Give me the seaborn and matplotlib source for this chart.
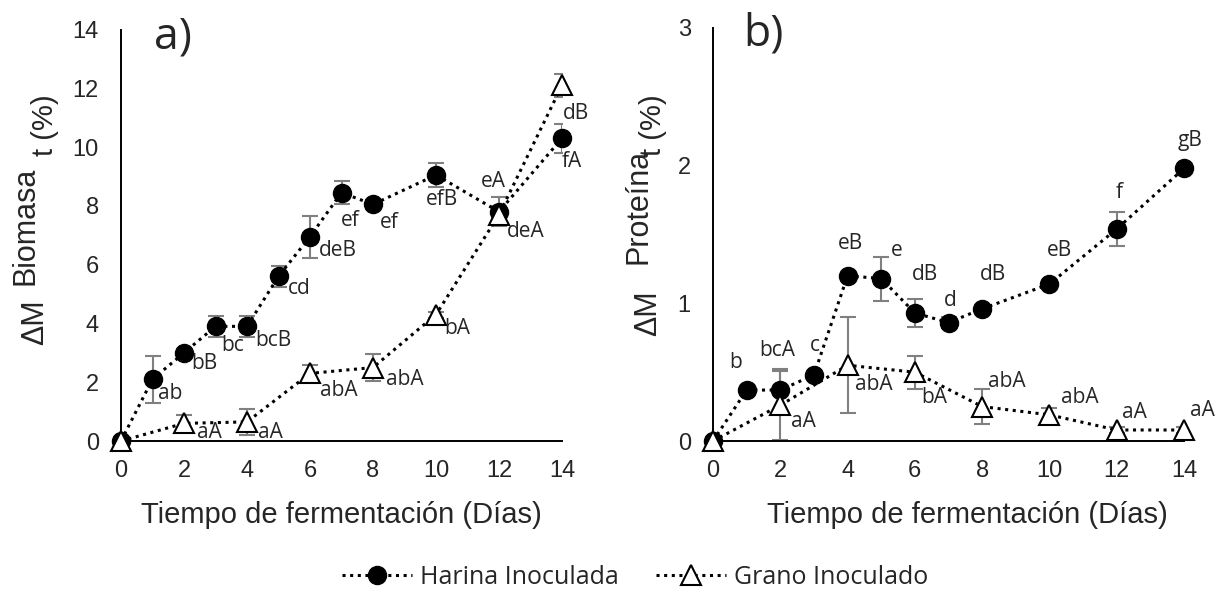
import numpy as np
import pandas as pd
import matplotlib.pyplot as plt
import seaborn as sns

sns.set_theme(style="white")
plt.rcParams['font.family'] = ['Liberation Sans', 'DejaVu Sans']

# datos
dias_harina = [0, 1, 2, 3, 4, 5, 6, 7, 8, 10, 12, 14]
dias_grano = [0, 2, 4, 6, 8, 10, 12, 14]

biomasa_harina = [0, 2.1, 3.0, 3.9, 3.9, 5.6, 6.95, 8.45, 8.05, 9.05, 7.8, 10.3]
biomasa_harina_err = [0, 0.8, 0.1, 0.35, 0.35, 0.35, 0.72, 0.4, 0.15, 0.42, 0.5, 0.5]
biomasa_grano = [0, 0.6, 0.65, 2.3, 2.5, 4.3, 7.7, 12.1]
biomasa_grano_err = [0, 0.3, 0.43, 0.3, 0.47, 0.1, 0.3, 0.4]
biomasa_harina_letras = ['', 'ab', 'bB', 'bc', 'bcB', 'cd', 'deB', 'ef', 'ef', 'efB', 'eA', 'fA']
biomasa_grano_letras = ['', 'aA', 'aA', 'abA', 'abA', 'bA', 'deA', 'dB']

proteina_harina = [0, 0.37, 0.37, 0.48, 1.2, 1.18, 0.93, 0.86, 0.96, 1.14, 1.54, 1.98]
proteina_harina_err = [0, 0, 0.15, 0, 0, 0.16, 0.1, 0.04, 0, 0, 0.12, 0]
proteina_grano = [0, 0.26, 0.55, 0.5, 0.25, 0.19, 0.08, 0.08]
proteina_grano_err = [0, 0.25, 0.35, 0.12, 0.13, 0.05, 0.02, 0.02]
proteina_harina_letras = ['', 'b', 'bcA', 'c', 'eB', 'e', 'dB', 'd', 'dB', 'eB', 'f', 'gB']
proteina_grano_letras = ['', 'aA', 'abA', 'bA', 'abA', 'abA', 'aA', 'aA']

# posicion de las letras (offset en puntos)
off_bio_h = [(0, 0), (13, -10), (15, -7.5), (12, -14), (19, -10), (15, -9), (20, -10),
             (6, -20), (12, -13), (4, -18), (-4, 22), (7, -17)]
off_bio_g = [(0, 0), (18, -6.5), (17, -7.5), (21, -12), (23, -8.5), (15, -10), (19, -12), (10, -20)]
off_pro_h = [(0, 0), (-8, 20), (-2, 28.5), (1, 21), (2, 23), (11, 20), (7, 27.5), (1, 16),
             (8, 25), (7, 24), (2, 26.5), (4.5, 20)]
off_pro_g = [(0, 0), (17, -12), (19, -14), (14, -18), (18, 18), (22, 12.5), (13, 12.5), (13, 14)]

W, H = 1219, 597
LETRA = ['Open Sans', 'DejaVu Sans']
punteado = (0, (1, 1.5))


def fx(px):
    return px / W


def fy(py):
    return 1 - py / H


def panel(ax, yh, eh, yg, eg, lh, lg, oh, og, ymax, ystep):
    ax.errorbar(dias_harina, yh, yerr=eh, fmt='none', ecolor='#808080',
                elinewidth=1.5, capsize=6, capthick=1.5, zorder=2)
    ax.errorbar(dias_grano, yg, yerr=eg, fmt='none', ecolor='#808080',
                elinewidth=1.5, capsize=6, capthick=1.5, zorder=2)
    dh = pd.DataFrame({'dia': dias_harina, 'valor': yh})
    dg = pd.DataFrame({'dia': dias_grano, 'valor': yg})
    sns.lineplot(data=dh, x='dia', y='valor', ax=ax, color='black', linestyle=punteado,
                 linewidth=2.2, marker='o', markersize=13, markerfacecolor='black',
                 markeredgecolor='black', markeredgewidth=1, label='Harina Inoculada',
                 zorder=3, clip_on=False)
    sns.lineplot(data=dg, x='dia', y='valor', ax=ax, color='black', linestyle=punteado,
                 linewidth=2.2, marker='^', markersize=14, markerfacecolor='white',
                 markeredgecolor='black', markeredgewidth=1.5, label='Grano Inoculado',
                 zorder=4, clip_on=False)
    for d, v, t, o in zip(dias_harina, yh, lh, oh):
        ax.annotate(t, (d, v), xytext=o, textcoords='offset points', ha='center',
                    va='center', fontsize=15, family=LETRA, zorder=5)
    for d, v, t, o in zip(dias_grano, yg, lg, og):
        ax.annotate(t, (d, v), xytext=o, textcoords='offset points', ha='center',
                    va='center', fontsize=15, family=LETRA, zorder=5)
    ax.set_xlim(0, 14)
    ax.set_ylim(0, ymax)
    ax.set_xticks(range(0, 15, 2))
    ax.set_yticks(np.arange(0, ymax + 0.01, ystep))
    ax.tick_params(length=0, labelsize=17)
    ax.tick_params(axis='y', pad=16)
    ax.tick_params(axis='x', pad=14)
    ax.set_xlabel('')
    ax.set_ylabel('')
    sns.despine(ax=ax)
    for s in ['left', 'bottom']:
        ax.spines[s].set_color('black')
        ax.spines[s].set_linewidth(1.4)
    ax.get_legend().remove()


fig = plt.figure(figsize=(W / 100, H / 100), dpi=100)
ax1 = fig.add_axes([fx(121), fy(441), fx(562) - fx(121), fy(29.5) - fy(441)])
ax2 = fig.add_axes([fx(713), fy(441), fx(1184) - fx(713), fy(28) - fy(441)])

panel(ax1, biomasa_harina, biomasa_harina_err, biomasa_grano, biomasa_grano_err,
      biomasa_harina_letras, biomasa_grano_letras, off_bio_h, off_bio_g, 14, 2)
panel(ax2, proteina_harina, proteina_harina_err, proteina_grano, proteina_grano_err,
      proteina_harina_letras, proteina_grano_letras, off_pro_h, off_pro_g, 3, 1)

eje_x = 'Tiempo de fermentación (Días)'
fig.text(fx(341), fy(515), eje_x, ha='center', va='center', fontsize=21)
fig.text(fx(967), fy(515), eje_x, ha='center', va='center', fontsize=21)

# etiquetas del eje y por partes (linea base a la derecha)
rot = dict(rotation=90, rotation_mode='anchor', ha='center', va='baseline')
fig.text(fx(43), fy(322), 'ΔM', fontsize=22, **rot)
fig.text(fx(33), fy(226), 'Biomasa', fontsize=22, **rot)
fig.text(fx(53), fy(125), 't (%)', fontsize=21, **rot)
fig.text(fx(656), fy(313), 'ΔM', fontsize=22, **rot)
fig.text(fx(646), fy(206), 'Proteína', fontsize=22, **rot)
fig.text(fx(661), fy(125), 't (%)', fontsize=21, **rot)

fig.text(fx(173), fy(37), 'a)', ha='center', va='center', fontsize=32, family=LETRA)
fig.text(fx(763), fy(34), 'b)', ha='center', va='center', fontsize=32, family=LETRA)

h, l = ax1.get_legend_handles_labels()
fig.legend(h, l, loc='center', bbox_to_anchor=(fx(635), fy(577)), ncol=2, frameon=False,
           prop={'family': LETRA, 'size': 18}, handlelength=2.8, columnspacing=1.5,
           handletextpad=0.3)

fig.savefig('out.png', dpi=100)
